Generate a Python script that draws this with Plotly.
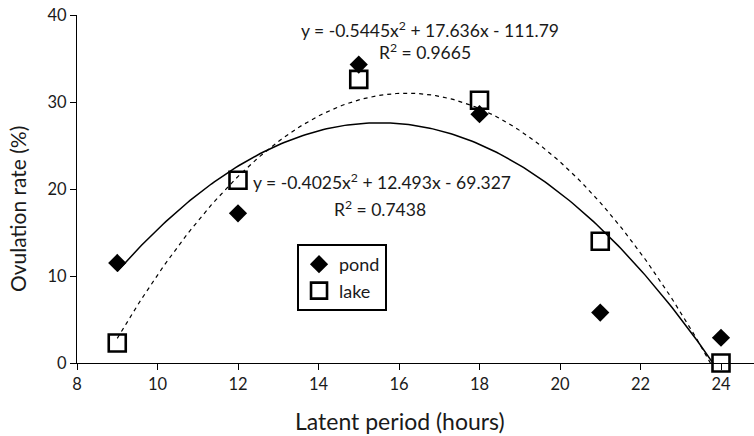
import numpy as np
import plotly.graph_objects as go

hours = [9, 12, 15, 18, 21, 24]
pond = [11.5, 17.2, 34.3, 28.6, 5.8, 2.9]
lake = [2.3, 21.0, 32.6, 30.2, 14.0, 0.0]

# trendline coefficients as printed on the chart (a, b, c) for y = a x^2 + b x + c
pond_fit = [-0.4025, 12.493, -69.327]
lake_fit = [-0.5445, 17.636, -111.79]
pond_r2 = "0.7438"
lake_r2 = "0.9665"

x_ticks = [8, 10, 12, 14, 16, 18, 20, 22, 24]
y_ticks = [0, 10, 20, 30, 40]

xs = np.linspace(hours[0], hours[-1], 200)
pond_curve = np.polyval(pond_fit, xs)
lake_curve = np.polyval(lake_fit, xs)

FONT = "Lato, 'Open Sans', sans-serif"
TXT = "#1a1a1a"
W, H = 754, 436
ML, MR, MT, MB = 77, 0, 15, 73

fig = go.Figure()
fig.add_trace(go.Scatter(x=xs, y=pond_curve, mode="lines",
                         line=dict(color="black", width=1.5), showlegend=False, hoverinfo="skip"))
fig.add_trace(go.Scatter(x=xs, y=lake_curve, mode="lines",
                         line=dict(color="black", width=1.2, dash="4px,4px"), showlegend=False, hoverinfo="skip"))
fig.add_trace(go.Scatter(x=hours, y=pond, mode="markers", name="pond",
                         marker=dict(symbol="diamond", size=14, color="black"), cliponaxis=False))
fig.add_trace(go.Scatter(x=hours, y=lake, mode="markers", name="lake",
                         marker=dict(symbol="square-open", size=17, color="black", line=dict(width=2.6, color="black")),
                         cliponaxis=False))

eq_font = dict(size=17.5, color=TXT, family=FONT)
fig.add_annotation(x=16.77, y=38.3, xref="x", yref="y", showarrow=False,
                   text="y = -0.5445x<sup>2</sup> + 17.636x - 111.79", font=eq_font)
fig.add_annotation(x=16.65, y=35.8, xref="x", yref="y", showarrow=False,
                   text="R<sup>2</sup> = " + lake_r2, font=eq_font)
fig.add_annotation(x=12.33, y=20.85, xref="x", yref="y", showarrow=False, xanchor="left",
                   text="y = -0.4025x<sup>2</sup> + 12.493x - 69.327", font=eq_font)
fig.add_annotation(x=15.53, y=17.75, xref="x", yref="y", showarrow=False,
                   text="R<sup>2</sup> = " + pond_r2, font=eq_font)

def px_to_paper(px, py):
    return (px - ML) / (W - ML - MR), (H - MB - py) / (H - MB - MT)

tx, ty = px_to_paper(400, 421)
fig.add_annotation(x=tx, y=ty, xref="paper", yref="paper", showarrow=False,
                   xanchor="center", yanchor="middle",
                   text="Latent period (hours)", font=dict(size=23, color=TXT, family=FONT))
tx, ty = px_to_paper(17, 209)
fig.add_annotation(x=tx, y=ty, xref="paper", yref="paper", showarrow=False, textangle=-90,
                   xanchor="center", yanchor="middle",
                   text="Ovulation rate (%)", font=dict(size=21, color=TXT, family=FONT))

fig.update_layout(
    width=W, height=H,
    margin=dict(l=ML, r=MR, t=MT, b=MB),
    paper_bgcolor="white", plot_bgcolor="white",
    font=dict(family=FONT, color=TXT),
    legend=dict(x=0.325, y=0.342, xanchor="left", yanchor="top",
                bordercolor="black", borderwidth=2, bgcolor="white",
                font=dict(size=18, color=TXT, family=FONT),
                tracegroupgap=0, itemwidth=30),
    xaxis=dict(range=[8, 24.82], tickvals=x_ticks, automargin=False,
               showline=True, linecolor="black", linewidth=1.3, ticks="outside", ticklen=6,
               tickcolor="black", showgrid=False, zeroline=False,
               tickfont=dict(size=16.5, color=TXT, family=FONT)),
    yaxis=dict(range=[0, 40], tickvals=y_ticks, automargin=False,
               showline=True, linecolor="black", linewidth=1.3, ticks="outside", ticklen=6,
               tickcolor="black", showgrid=False, zeroline=False,
               tickfont=dict(size=16.5, color=TXT, family=FONT)),
)

fig.write_html("out.html", config={"displayModeBar": False},
               post_script="document.body.style.margin='0px';document.body.style.overflow='hidden';")
